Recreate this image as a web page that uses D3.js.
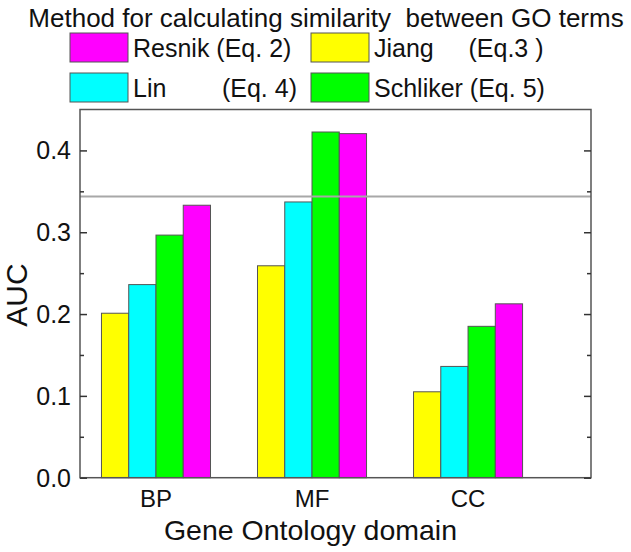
<!DOCTYPE html>
<html><head><meta charset="utf-8">
<script src="https://cdn.jsdelivr.net/npm/d3@7"></script>
<style>body{margin:0;background:#fff}svg{display:block;font-family:"Liberation Sans",Arial,sans-serif}</style>
</head><body><svg id="c" width="631" height="552"></svg>
<script>
const domains = ["BP", "MF", "CC"];
const methods = ["Jiang", "Lin", "Schliker", "Resnik"];
const colors = ["#ffff00", "#00ffff", "#00ff00", "#ff00ff"];
const jiang = [0.201, 0.259, 0.105];
const lin = [0.236, 0.337, 0.136];
const schliker = [0.2965, 0.4225, 0.185];
const resnik = [0.333, 0.4205, 0.2125];
const seriesVals = [jiang, lin, schliker, resnik];
const refLine = 0.3437;
const yTicks = [0.0, 0.1, 0.2, 0.3, 0.4];
const yMinor = [0.05, 0.15, 0.25, 0.35];
const legendTitle = "Method for calculating similarity\u00a0 between GO terms";
const legendItems = [
  {label: "Resnik (Eq. 2)", color: "#ff00ff"},
  {label: "Jiang \u00a0\u00a0\u00a0\u00a0(Eq.3 )", color: "#ffff00"},
  {label: "Lin \u00a0\u00a0\u00a0\u00a0\u00a0\u00a0\u00a0(Eq. 4)", color: "#00ffff"},
  {label: "Schliker (Eq. 5)", color: "#00ff00"}
];

const svg = d3.select("#c");
const L = 80, R = 591, T = 109.5, B = 477.7;
const x = d3.scaleLinear().domain([0.513, 3.788]).range([L, R]);
const y = d3.scaleLinear().domain([0, 0.45]).range([B, T]);
const bw = 0.1747;

// bars
methods.forEach((m, j) => {
  svg.append("g").selectAll("rect").data(seriesVals[j]).join("rect")
    .attr("x", (d, i) => x(i + 1 + (j - 2) * bw))
    .attr("width", x(bw) - x(0))
    .attr("y", d => y(d))
    .attr("height", d => y(0) - y(d))
    .attr("fill", colors[j])
    .attr("stroke", "#555").attr("stroke-width", 1);
});

// reference line
svg.append("line").attr("x1", L).attr("x2", R).attr("y1", y(refLine)).attr("y2", y(refLine))
  .attr("stroke", "#a8a8a8").attr("stroke-width", 2);

// frame
svg.append("rect").attr("x", L).attr("y", T).attr("width", R - L).attr("height", B - T)
  .attr("fill", "none").attr("stroke", "#555").attr("stroke-width", 1.5);

// left axis
const left = svg.append("g").attr("transform", `translate(${L},0)`)
  .call(d3.axisRight(y).tickValues(yTicks).tickSize(7).tickFormat(""));
left.select(".domain").remove();
left.selectAll("line").attr("stroke", "#333").attr("stroke-width", 1.5);
const leftMinor = svg.append("g").attr("transform", `translate(${L},0)`)
  .call(d3.axisRight(y).tickValues(yMinor).tickSize(4).tickFormat(""));
leftMinor.select(".domain").remove();
leftMinor.selectAll("line").attr("stroke", "#333").attr("stroke-width", 1.5);
svg.append("g").selectAll("text").data(yTicks).join("text")
  .attr("x", L - 9).attr("y", d => y(d)).attr("dy", "0.36em")
  .attr("text-anchor", "end").attr("font-size", 25).attr("fill", "#111")
  .text(d => d3.format(".1f")(d));

// right axis
const right = svg.append("g").attr("transform", `translate(${R},0)`)
  .call(d3.axisLeft(y).tickValues(yTicks).tickSize(7).tickFormat(""));
right.select(".domain").remove();
right.selectAll("line").attr("stroke", "#333").attr("stroke-width", 1.5);
const rightMinor = svg.append("g").attr("transform", `translate(${R},0)`)
  .call(d3.axisLeft(y).tickValues(yMinor).tickSize(4).tickFormat(""));
rightMinor.select(".domain").remove();
rightMinor.selectAll("line").attr("stroke", "#333").attr("stroke-width", 1.5);

// x labels
svg.append("g").selectAll("text").data(domains).join("text")
  .attr("x", (d, i) => x(i + 1)).attr("y", 507)
  .attr("text-anchor", "middle").attr("font-size", 24).attr("fill", "#111").text(d => d);

svg.append("text").attr("x", 310.5).attr("y", 540).attr("text-anchor", "middle")
  .attr("font-size", 28.5).attr("fill", "#111").text("Gene Ontology domain");

svg.append("text").attr("transform", "translate(27,295) rotate(-90)")
  .attr("text-anchor", "middle").attr("font-size", 30).attr("fill", "#111").text("AUC");

// legend
svg.append("text").attr("x", 326).attr("y", 27).attr("text-anchor", "middle")
  .attr("font-size", 26).attr("fill", "#111").text(legendTitle);
const lg = svg.append("g").selectAll("g").data(legendItems).join("g")
  .attr("transform", (d, i) => `translate(${i % 2 === 0 ? 70 : 311},${i < 2 ? 33 : 73})`);
lg.append("rect").attr("width", 58).attr("height", 29).attr("fill", d => d.color)
  .attr("stroke", "#555").attr("stroke-width", 1);
lg.append("text").attr("x", 63).attr("y", 24).attr("font-size", 25).attr("fill", "#111")
  .text(d => d.label);
</script></body></html>
